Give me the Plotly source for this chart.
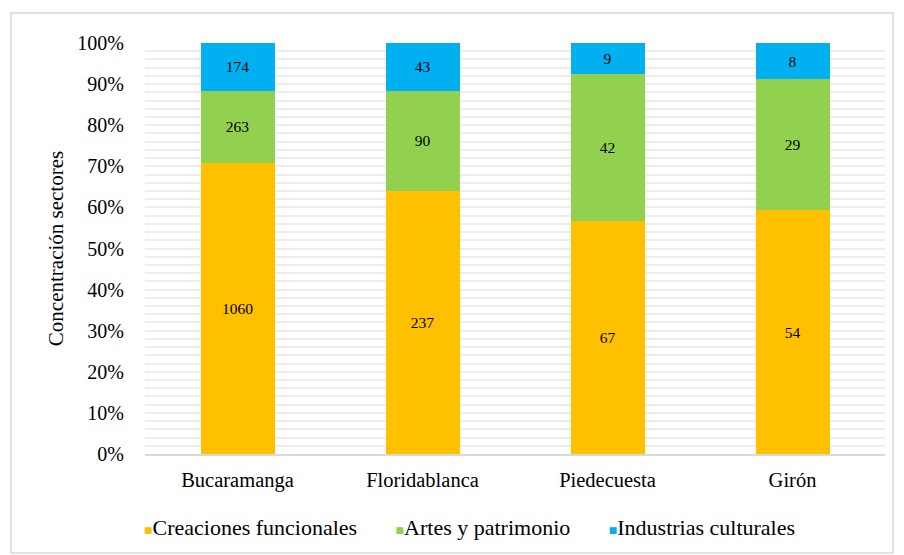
import plotly.graph_objects as go

municipios = ["Bucaramanga", "Floridablanca", "Piedecuesta", "Girón"]
creaciones = [1060, 237, 67, 54]
artes = [263, 90, 42, 29]
industrias = [174, 43, 9, 8]

series = [
    ("Creaciones funcionales", creaciones, "#FFC000"),
    ("Artes y patrimonio", artes, "#92D050"),
    ("Industrias culturales", industrias, "#00B0F0"),
]

FONT = "Liberation Serif"

fig = go.Figure()
for name, vals, color in series:
    fig.add_trace(go.Bar(
        name=name, x=municipios, y=vals,
        marker=dict(color=color, line=dict(width=0)),
        text=[str(v) for v in vals], textposition="inside",
        insidetextanchor="middle",
        textfont=dict(family=FONT, size=15.5, color="black"),
        width=0.4, showlegend=False,
    ))

# legend row built from the series names and colours
legend_html = "&nbsp;&nbsp;&nbsp;&nbsp;&nbsp;&nbsp;&nbsp;".join(
    f"<span style='color:{c};font-size:14px'>■</span>{n}" for n, _, c in series
)

fig.update_layout(
    barmode="stack", barnorm="percent",
    width=904, height=555,
    margin=dict(l=145, r=19, t=43, b=101),
    paper_bgcolor="white", plot_bgcolor="white",
    font=dict(family=FONT, size=21, color="black"),
    xaxis=dict(showgrid=False, showline=True, linecolor="#D9D9D9", linewidth=2,
               ticks="outside", ticklen=6, tickcolor="rgba(0,0,0,0)",
               tickfont=dict(family=FONT, size=20.5)),
    yaxis=dict(range=[0, 100], dtick=10, ticksuffix="%", showline=False,
               gridcolor="#EDEDED", gridwidth=1.5, zeroline=False,
               ticks="outside", ticklen=16, tickcolor="rgba(0,0,0,0)",
               tickfont=dict(family=FONT, size=20),
               minor=dict(dtick=2, showgrid=True, gridcolor="#EDEDED", gridwidth=1.5),
               title=dict(text="Concentración sectores", standoff=7,
                          font=dict(family=FONT, size=21))),
    annotations=[dict(text=legend_html, xref="paper", yref="paper",
                      x=0.438, y=-0.178, xanchor="center", yanchor="middle",
                      showarrow=False, font=dict(family=FONT, size=22))],
    shapes=[dict(type="rect", xref="paper", yref="paper",
                 x0=-0.181, x1=1.0108, y0=-0.241, y1=1.073,
                 line=dict(color="#D9D9D9", width=1.5), fillcolor="rgba(0,0,0,0)",
                 layer="below")],
)

fig.write_html("out.html")
